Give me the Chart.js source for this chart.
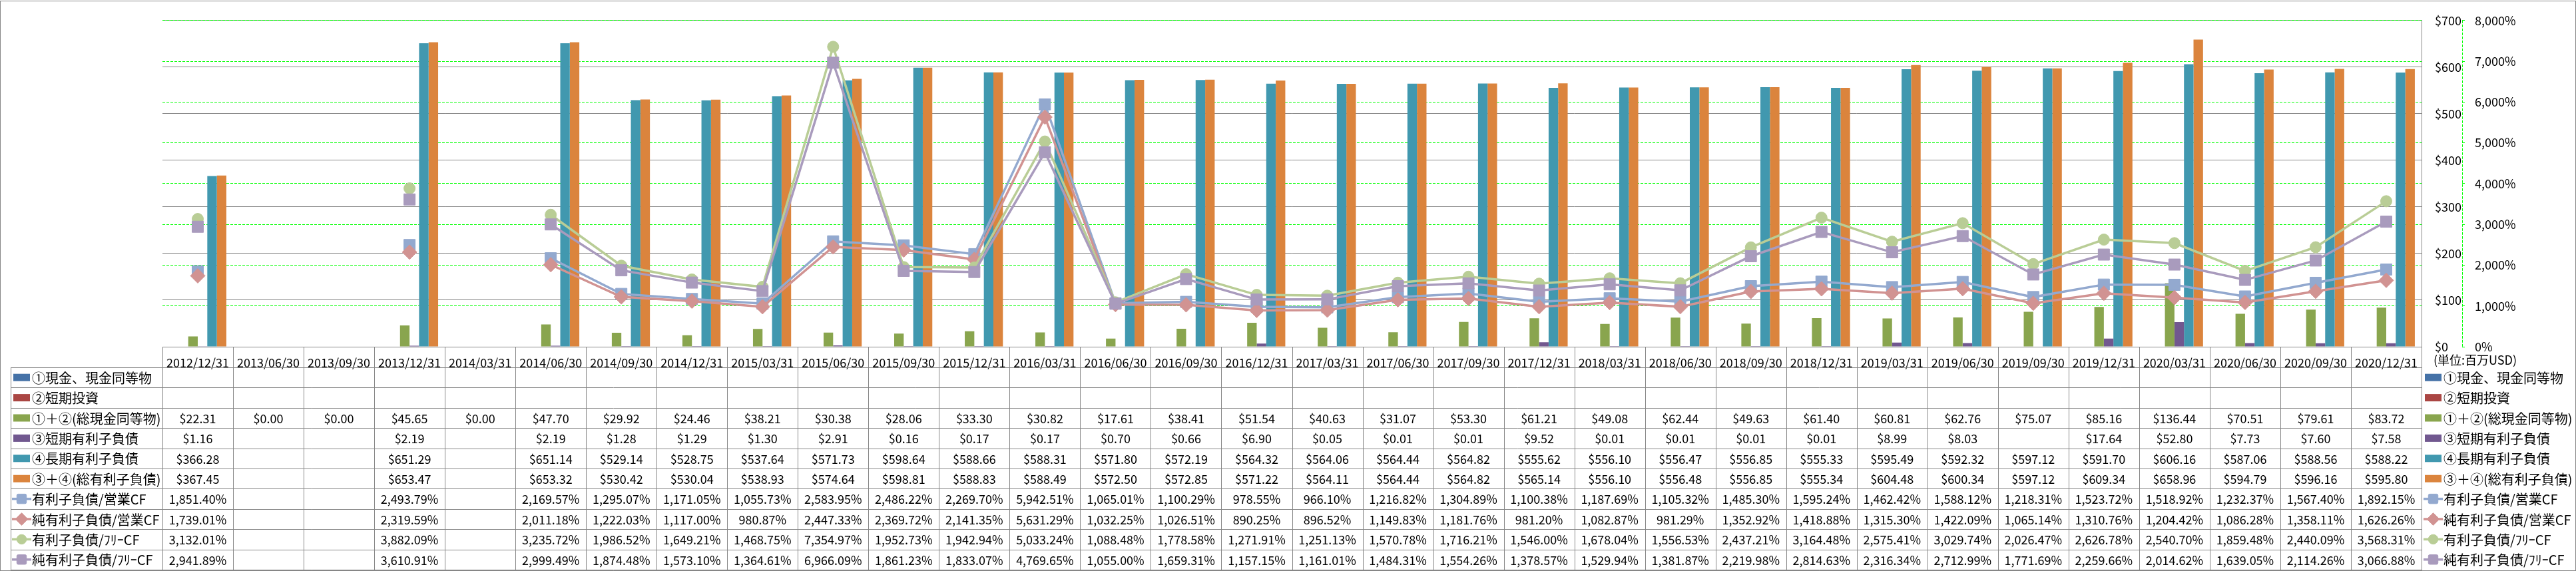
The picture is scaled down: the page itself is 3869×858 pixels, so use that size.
<!DOCTYPE html>
<html><head><meta charset="utf-8">
<script src="https://cdn.jsdelivr.net/npm/chart.js@4.4.1/dist/chart.umd.min.js"></script>
<style>html,body{margin:0;padding:0;background:#fff;}#wrap{width:3869px;height:858px;position:relative;}</style>
</head><body><div id="wrap"><canvas id="c" width="3869" height="858"></canvas></div>
<script>
const categories = ['2012/12/31','2013/06/30','2013/09/30','2013/12/31','2014/03/31','2014/06/30','2014/09/30','2014/12/31','2015/03/31','2015/06/30','2015/09/30','2015/12/31','2016/03/31','2016/06/30','2016/09/30','2016/12/31','2017/03/31','2017/06/30','2017/09/30','2017/12/31','2018/03/31','2018/06/30','2018/09/30','2018/12/31','2019/03/31','2019/06/30','2019/09/30','2019/12/31','2020/03/31','2020/06/30','2020/09/30','2020/12/31'];
const cash = [null,null,null,null,null,null,null,null,null,null,null,null,null,null,null,null,null,null,null,null,null,null,null,null,null,null,null,null,null,null,null,null];
const shortInvest = [null,null,null,null,null,null,null,null,null,null,null,null,null,null,null,null,null,null,null,null,null,null,null,null,null,null,null,null,null,null,null,null];
const totalCash = [22.31,0,0,45.65,0,47.70,29.92,24.46,38.21,30.38,28.06,33.30,30.82,17.61,38.41,51.54,40.63,31.07,53.30,61.21,49.08,62.44,49.63,61.40,60.81,62.76,75.07,85.16,136.44,70.51,79.61,83.72];
const shortDebt = [1.16,null,null,2.19,null,2.19,1.28,1.29,1.30,2.91,0.16,0.17,0.17,0.70,0.66,6.90,0.05,0.01,0.01,9.52,0.01,0.01,0.01,0.01,8.99,8.03,null,17.64,52.80,7.73,7.60,7.58];
const longDebt = [366.28,null,null,651.29,null,651.14,529.14,528.75,537.64,571.73,598.64,588.66,588.31,571.80,572.19,564.32,564.06,564.44,564.82,555.62,556.10,556.47,556.85,555.33,595.49,592.32,597.12,591.70,606.16,587.06,588.56,588.22];
const totalDebt = [367.45,null,null,653.47,null,653.32,530.42,530.04,538.93,574.64,598.81,588.83,588.49,572.50,572.85,571.22,564.11,564.44,564.82,565.14,556.10,556.48,556.85,555.34,604.48,600.34,597.12,609.34,658.96,594.79,596.16,595.80];
const debtOcf = [1851.40,null,null,2493.79,null,2169.57,1295.07,1171.05,1055.73,2583.95,2486.22,2269.70,5942.51,1065.01,1100.29,978.55,966.10,1216.82,1304.89,1100.38,1187.69,1105.32,1485.30,1595.24,1462.42,1588.12,1218.31,1523.72,1518.92,1232.37,1567.40,1892.15];
const netDebtOcf = [1739.01,null,null,2319.59,null,2011.18,1222.03,1117.00,980.87,2447.33,2369.72,2141.35,5631.29,1032.25,1026.51,890.25,896.52,1149.83,1181.76,981.20,1082.87,981.29,1352.92,1418.88,1315.30,1422.09,1065.14,1310.76,1204.42,1086.28,1358.11,1626.26];
const debtFcf = [3132.01,null,null,3882.09,null,3235.72,1986.52,1649.21,1468.75,7354.97,1952.73,1942.94,5033.24,1088.48,1778.58,1271.91,1251.13,1570.78,1716.21,1546.00,1678.04,1556.53,2437.21,3164.48,2575.41,3029.74,2026.47,2626.78,2540.70,1859.48,2440.09,3568.31];
const netDebtFcf = [2941.89,null,null,3610.91,null,2999.49,1874.48,1573.10,1364.61,6966.09,1861.23,1833.07,4769.65,1055.00,1659.31,1157.15,1161.01,1484.31,1554.26,1378.57,1529.94,1381.87,2219.98,2814.63,2316.34,2712.99,1771.69,2259.66,2014.62,1639.05,2114.26,3066.88];
const seriesLabels = ['①現金、現金同等物','②短期投資','①＋②(総現金同等物)','③短期有利子負債','④長期有利子負債','③＋④(総有利子負債)','有利子負債/営業CF','純有利子負債/営業CF','有利子負債/ﾌﾘｰCF','純有利子負債/ﾌﾘｰCF'];
const usdTicks = [0,100,200,300,400,500,600,700];
const pctTicks = [0,1000,2000,3000,4000,5000,6000,7000,8000];
const unitLabel = '(単位:百万USD)';

const FONT = "'Noto Sans CJK JP','Noto Sans',sans-serif";
const GRAY = '#868686';
const seriesDefs = [
  {data: cash, kind:'bar', color:'#4572A7'},
  {data: shortInvest, kind:'bar', color:'#AA4643'},
  {data: totalCash, kind:'bar', color:'#89A54E'},
  {data: shortDebt, kind:'bar', color:'#71588F'},
  {data: longDebt, kind:'bar', color:'#4198AF'},
  {data: totalDebt, kind:'bar', color:'#DB843D'},
  {data: debtOcf, kind:'line', color:'#93A9CF', marker:'rect', r:12, order:4},
  {data: netDebtOcf, kind:'line', color:'#D19392', marker:'rectRot', r:11, order:3},
  {data: debtFcf, kind:'line', color:'#B9CD96', marker:'circle', r:8.5, order:2},
  {data: netDebtFcf, kind:'line', color:'#A99BBD', marker:'rect', r:12, order:1}
];

function fmtMoney(v){ return v==null ? '' : '$' + v.toFixed(2); }
function fmtPct(v){ return v==null ? '' : v.toLocaleString('en-US',{minimumFractionDigits:2,maximumFractionDigits:2}) + '%'; }

function drawMarker(ctx, style, x, y, r, color){
  ctx.save(); ctx.fillStyle=color; ctx.strokeStyle=color; ctx.lineWidth=1;
  ctx.beginPath();
  if (style==='circle') ctx.arc(x,y,r,0,Math.PI*2);
  else if (style==='rectRot'){ ctx.moveTo(x-r,y); ctx.lineTo(x,y-r); ctx.lineTo(x+r,y); ctx.lineTo(x,y+r); ctx.closePath(); }
  else { const h=r*0.707; ctx.roundRect(x-h,y-h,2*h,2*h,2); }
  ctx.fill(); ctx.stroke(); ctx.restore();
}
function drawKey(ctx, s, x0, x1, yc){
  if (s.kind==='bar'){ ctx.fillStyle=s.color; ctx.fillRect(x0+2, yc-5.5, x1-x0-4, 11); }
  else {
    ctx.save(); ctx.strokeStyle=s.color; ctx.lineWidth=3.5; ctx.beginPath(); ctx.moveTo(x0,yc); ctx.lineTo(x1,yc); ctx.stroke(); ctx.restore();
    drawMarker(ctx, s.marker, (x0+x1)/2, yc, s.r*0.85, s.color);
  }
}

const tablePlugin = {
  id:'dataTable',
  afterDraw(chart){
    const ctx = chart.ctx, a = chart.chartArea, x = chart.scales.x, y1 = chart.scales.y1;
    const n = categories.length;
    const colW = x.getPixelForValue(1) - x.getPixelForValue(0);
    const tTop = 552, tBot = 856, rows = seriesDefs.length, rowH = (tBot - tTop)/rows, tLeft = 16;
    ctx.save();
    ctx.strokeStyle = GRAY; ctx.lineWidth = 1; ctx.beginPath();
    for (let i=0;i<=rows;i++){ const yy = Math.round(tTop+i*rowH)+0.5; ctx.moveTo(tLeft, yy); ctx.lineTo(a.right+1, yy); }
    ctx.moveTo(tLeft+0.5, tTop); ctx.lineTo(tLeft+0.5, tBot+1);
    for (let k=0;k<=n;k++){
      const xx = Math.round(k<n ? x.getPixelForValue(k)-colW/2 : x.getPixelForValue(n-1)+colW/2)+0.5;
      ctx.moveTo(xx, a.bottom); ctx.lineTo(xx, tBot+1);
    }
    ctx.stroke();
    ctx.fillStyle = '#000'; ctx.textBaseline = 'middle';
    ctx.font = '18px ' + FONT; ctx.textAlign = 'center';
    seriesDefs.forEach((s,r)=>{
      const yc = tTop + (r+0.5)*rowH;
      s.data.forEach((v,i)=>{ const t = s.kind==='bar' ? fmtMoney(v) : fmtPct(v); if (t) ctx.fillText(t, x.getPixelForValue(i), yc+1); });
    });
    ctx.textAlign = 'left'; ctx.font = '20px ' + FONT;
    seriesDefs.forEach((s,r)=>{
      const yc = tTop + (r+0.5)*rowH;
      drawKey(ctx, s, 18, 47, yc);
      ctx.fillStyle='#000'; ctx.fillText(seriesLabels[r], 48, yc+1);
      drawKey(ctx, s, 3640, 3669, yc);
      ctx.fillStyle='#000'; ctx.fillText(seriesLabels[r], 3670, yc+1);
    });
    ctx.font = '18px ' + FONT; ctx.fillText(unitLabel, 3655, 541);
    ctx.strokeStyle = '#00FF00'; ctx.setLineDash([4,2]); ctx.beginPath();
    ctx.moveTo(Math.round(y1.left)+0.5, a.top); ctx.lineTo(Math.round(y1.left)+0.5, a.bottom); ctx.stroke();
    ctx.setLineDash([]);
    ctx.strokeStyle = GRAY; ctx.strokeRect(0.5, 1.5, chart.width-1, chart.height-2);
    ctx.restore();
  }
};

const datasets = seriesDefs.map((s,i)=> s.kind==='bar' ? {
  type:'bar', label: seriesLabels[i], data: s.data, backgroundColor: s.color, borderWidth:0,
  barPercentage:1, categoryPercentage:0.81, yAxisID:'y', order:10
} : {
  type:'line', label: seriesLabels[i], data: s.data, borderColor: s.color, backgroundColor: s.color,
  borderWidth:3.5, pointStyle: s.marker, pointRadius: s.r, pointBorderWidth:1, pointBackgroundColor:s.color,
  pointBorderColor:s.color, spanGaps:false, tension:0, yAxisID:'y1', order:s.order
});

Chart.defaults.font.family = FONT;
Chart.defaults.color = '#000';
new Chart(document.getElementById('c'), {
  type:'bar',
  data:{ labels: categories, datasets },
  options:{
    responsive:false, animation:false, devicePixelRatio:1,
    layout:{ padding:{ left:244, top:13, right:0, bottom:0 } },
    plugins:{ legend:{display:false}, tooltip:{enabled:false} },
    scales:{
      x:{ offset:true, grid:{display:false}, border:{display:true, color:GRAY, width:1},
          ticks:{ autoSkip:false, maxRotation:0, minRotation:0, padding:5, font:{size:18}, color:'#000' },
          afterFit: s => { s.height = 337; } },
      y:{ position:'right', weight:1, min:0, max:700,
          afterBuildTicks: s => { s.ticks = usdTicks.map(v=>({value:v})); },
          ticks:{ padding:20, font:{size:18}, color:'#000', callback: v => '$' + v },
          grid:{ color:GRAY, lineWidth:1, drawTicks:false }, border:{ display:true, color:GRAY, width:1 },
          afterFit: s => { s.width = 61; } },
      y1:{ position:'right', weight:2, min:0, max:8000,
           afterBuildTicks: s => { s.ticks = pctTicks.map(v=>({value:v})); },
           ticks:{ padding:15, font:{size:18}, color:'#000', callback: v => v.toLocaleString('en-US') + '%' },
           grid:{ color:'#00FF00', lineWidth:1, drawTicks:true, tickLength:4, tickColor:'#00FF00', z:-1 },
           border:{ display:false, dash:[4,2] },
           afterFit: s => { s.width = 3869 - 3698; } }
    }
  },
  plugins:[tablePlugin]
});
</script></body></html>
